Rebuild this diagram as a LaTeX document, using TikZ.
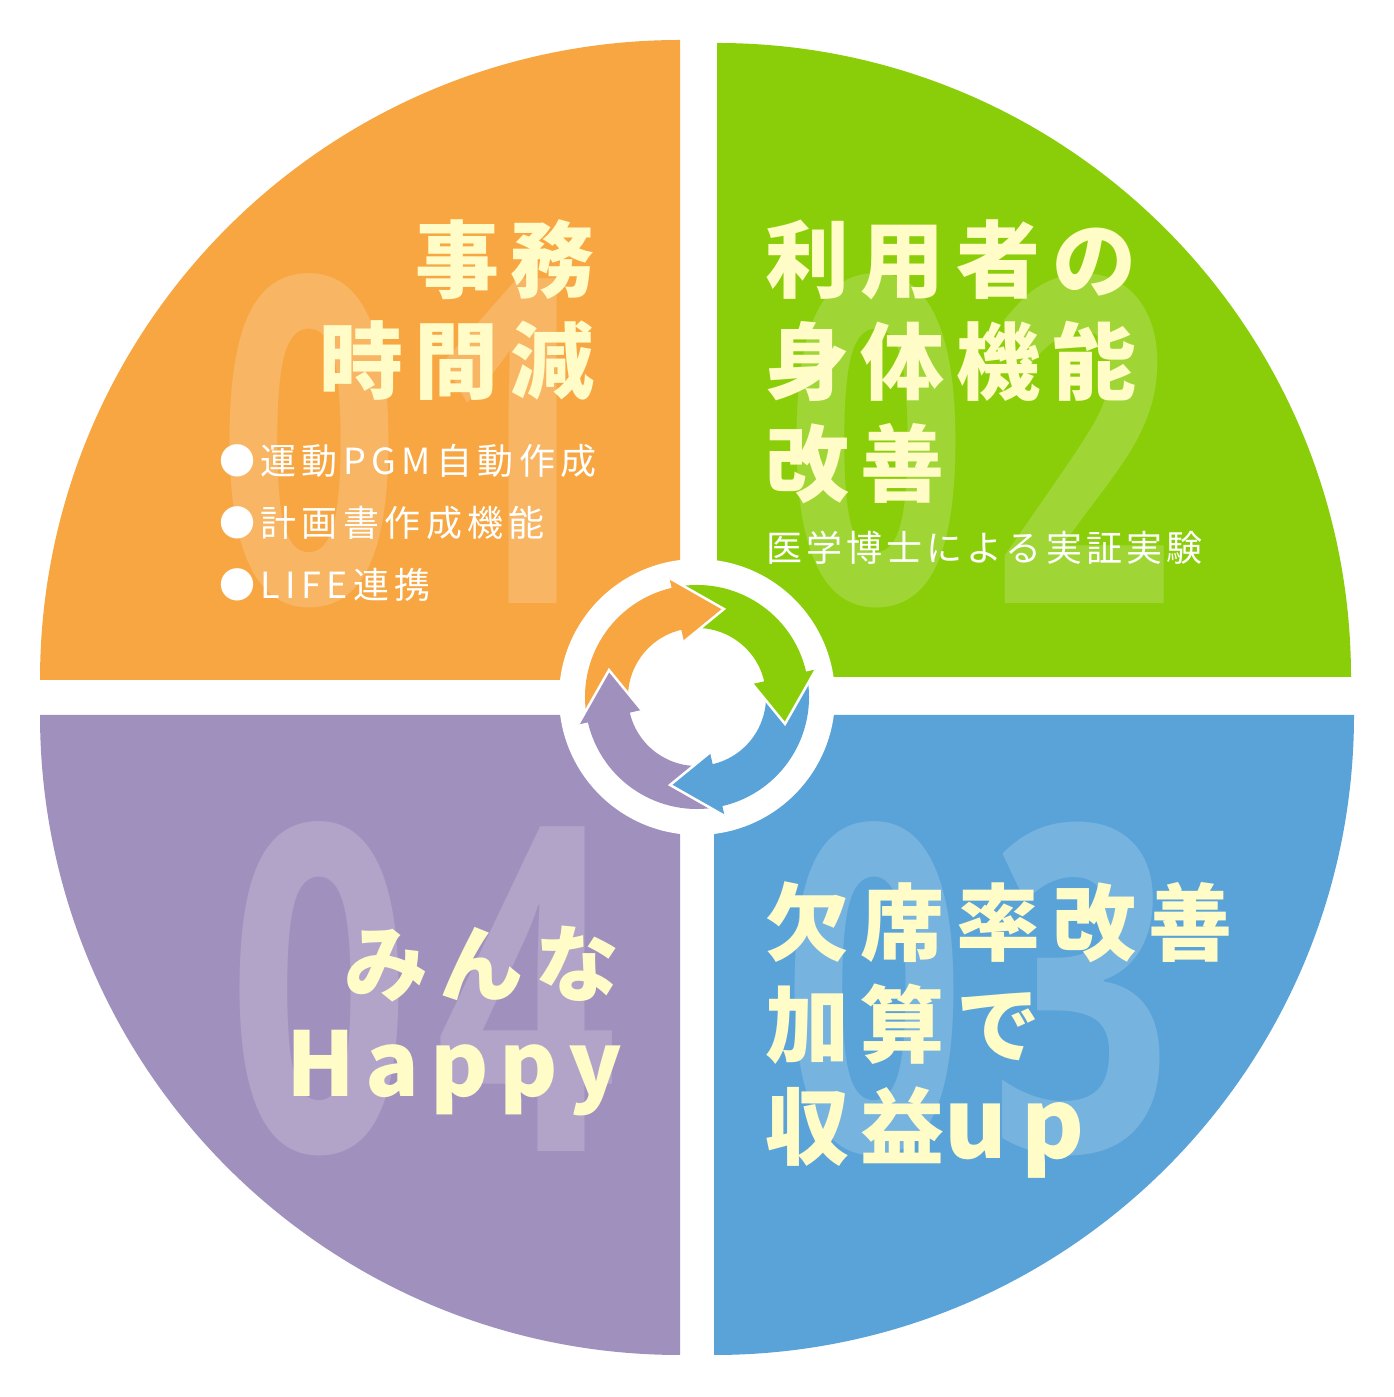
\documentclass[tikz,border=0pt]{standalone}
\usepackage{fontspec}
\usepackage{graphicx}
\newfontfamily\jp{Noto Sans CJK JP}
\newfontfamily\digitfont{Open Sans}
\usetikzlibrary{calc}
\definecolor{qorange}{RGB}{247,166,66}
\definecolor{qgreen}{RGB}{138,206,10}
\definecolor{qblue}{RGB}{89,163,216}
\definecolor{qpurple}{RGB}{160,144,189}
\definecolor{cream}{RGB}{255,252,200}
\tikzset{
  headtext/.style={font=\jp\bfseries\fontsize{84}{84}\selectfont\addfontfeature{LetterSpace=14}, text=cream, inner sep=0pt},
  subtext/.style={font=\jp\fontsize{36}{36}\selectfont\addfontfeature{LetterSpace=11.5}, text=white, inner sep=0pt},
  bullettext/.style={font=\jp\fontsize{36}{36}\selectfont\addfontfeature{LetterSpace=15}, text=white, inner sep=0pt},
  digittext/.style={font=\digitfont\bfseries\fontsize{455}{455}\selectfont\addfontfeature{LetterSpace=8}, text=white, text opacity=0.18, inner sep=0pt},
}
\newcommand\ringband[2]{%
  \fill[#1] ($(C)+({#2+88}:112)$) arc[start angle={#2+88}, end angle={#2}, radius=112]
    -- ($(C)+(#2:122)$) -- ($(C)+({#2-30}:92)$) -- ($(C)+(#2:57)$) -- ($(C)+(#2:69)$)
    arc[start angle={#2}, end angle={#2+88}, radius=69] -- cycle;}
\newcommand\ringhead[2]{%
  \fill[#1] ($(C)+(#2:122)$) -- ($(C)+({#2-30}:92)$) -- ($(C)+(#2:57)$) -- cycle;
  \draw[white, line width=2.5pt, line join=miter] ($(C)+(#2:122)$) -- ($(C)+({#2-30}:92)$) -- ($(C)+(#2:57)$);}
\begin{document}
\begin{tikzpicture}[x=1pt,y=1pt]
\useasboundingbox (0,0) rectangle (1394,1397);
\fill[white] (0,0) rectangle (1394,1397);
% quadrants
\fill[qorange] (680,717) -- (680,1357) arc[start angle=90, end angle=180, radius=640] -- cycle;
\fill[qgreen] (717,720) -- (1351,720) arc[start angle=0, end angle=90, radius=634] -- cycle;
\fill[qblue] (714,682) -- (714,42) arc[start angle=270, end angle=360, radius=640] -- cycle;
\fill[qpurple] (680,682) -- (40,682) arc[start angle=180, end angle=270, radius=640] -- cycle;
% big numbers
\node[digittext, anchor=base west] (n01) at (218,793) {\scalebox{0.70}[1]{01}};
\node[digittext, anchor=base west] (n02) at (785,793) {\scalebox{0.70}[1]{02}};
\node[digittext, anchor=base west] (n03) at (783,245) {\scalebox{0.70}[1]{03}};
\node[digittext, anchor=base west] (n04) at (228,245) {\scalebox{0.70}[1]{04}};
% orange texts
\node[headtext, anchor=base east] (o1) at (595,1105) {事務};
\node[headtext, anchor=base east] (o2) at (595,1004) {時間減};
\node[bullettext, anchor=base west] (b1) at (219,922) {●運動PGM自動作成};
\node[bullettext, anchor=base west] (b2) at (219,860) {●計画書作成機能};
\node[bullettext, anchor=base west] (b3) at (219,798) {●LIFE連携};
% green texts
\node[headtext, anchor=base west] (g1) at (765,1105) {利用者の};
\node[headtext, anchor=base west] (g2) at (765,1003) {身体機能};
\node[headtext, anchor=base west] (g3) at (765,901) {改善};
\node[subtext, anchor=base west] (g4) at (766,835) {医学博士による実証実験};
% blue texts
\node[headtext, anchor=base west] (u1) at (765,442) {欠席率改善};
\node[headtext, anchor=base west] (u2) at (765,340) {加算で};
\node[headtext, anchor=base west] (u3) at (765,238) {収益{\fontsize{96}{96}\selectfont up}};
% purple texts
\node[headtext, anchor=base east] (p1) at (620,401) {みんな};
\node[headtext, anchor=base east, font=\jp\bfseries\fontsize{89}{89}\selectfont\addfontfeature{LetterSpace=12}] (p2) at (622,300) {Happy};
% center ring
\coordinate (C) at (697,700);
\node[circle, fill=white, minimum size=276pt, inner sep=0pt] (ring) at (C) {};
\ringband{qorange}{103}
\ringband{qgreen}{13}
\ringband{qblue}{-77}
\ringband{qpurple}{193}
\ringhead{qorange}{103}
\ringhead{qgreen}{13}
\ringhead{qblue}{-77}
\ringhead{qpurple}{193}
\end{tikzpicture}
\end{document}
